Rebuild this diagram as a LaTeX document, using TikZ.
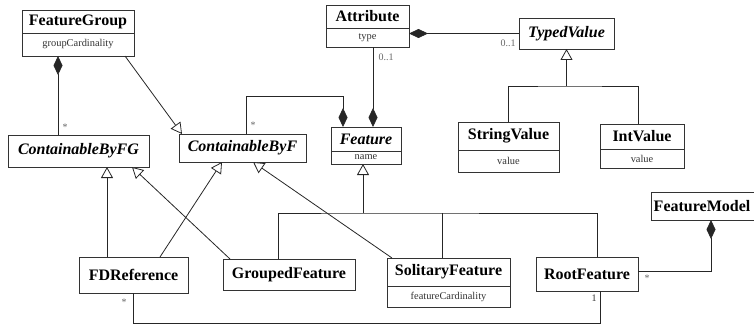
\documentclass[tikz,border=0pt]{standalone}
\usepackage{fontspec}
\setmainfont{Liberation Serif}
\usetikzlibrary{arrows.meta,calc}
\begin{document}
\begin{tikzpicture}[x=1pt,y=-1pt,
 box/.style={draw=black!80, line width=0.9pt, inner sep=0pt, outer sep=0pt, fill=white},
 ttl/.style={font=\fontsize{16}{18}\selectfont\bfseries, inner sep=0pt},
 ittl/.style={font=\fontsize{16}{18}\selectfont\bfseries\itshape, inner sep=0pt},
 att/.style={font=\fontsize{10.4}{12}\selectfont, text=black!80, inner sep=0pt},
 mult/.style={font=\fontsize{10}{12}\selectfont, text=black!60, inner sep=0pt},
 con/.style={draw=black!85, line width=0.8pt},
 compo/.style={con, {Diamond[length=19pt,width=9pt]}-},
 gen/.style={con, -{Triangle[open,length=11pt,width=12pt,fill=white]}},
 divl/.style={draw=black!80, line width=0.8pt},
]
\useasboundingbox (0,0) rectangle (754,326);

% connectors first (boxes drawn on top)
% classes
\node[box, minimum width=112pt, minimum height=46pt] (fg) at (78,33) {};
\node[box, minimum width=83pt, minimum height=42pt] (attr) at (367.5,26) {};
\node[box, minimum width=95pt, minimum height=31pt] (tv) at (566.5,33.5) {};
\node[box, minimum width=101pt, minimum height=50pt] (sv) at (508.5,147) {};
\node[box, minimum width=84pt, minimum height=44pt] (iv) at (642,146) {};
\node[box, minimum width=70pt, minimum height=37pt] (feat) at (366,145.5) {};
\node[box, minimum width=127pt, minimum height=28pt] (cbf) at (242.5,148) {};
\node[box, minimum width=141pt, minimum height=32pt] (cbfg) at (78.5,151) {};
\node[box, minimum width=109pt, minimum height=36pt] (fdr) at (133.5,275) {};
\node[box, minimum width=132pt, minimum height=31pt] (gf) at (289,274.5) {};
\node[box, minimum width=123pt, minimum height=49pt] (sf) at (448.5,282.5) {};
\node[box, minimum width=102pt, minimum height=34pt] (rf) at (587,274) {};
\node[box, minimum width=105pt, minimum height=28pt] (fm) at (703.5,206) {};

% dividers
\draw[divl] (fg.west |- 0,33) -- (fg.east |- 0,33);
\draw[divl] (attr.west |- 0,28) -- (attr.east |- 0,28);
\draw[divl] (sv.west |- 0,150) -- (sv.east |- 0,150);
\draw[divl] (iv.west |- 0,149) -- (iv.east |- 0,149);
\draw[divl] (feat.west |- 0,151) -- (feat.east |- 0,151);
\draw[divl] (sf.west |- 0,286) -- (sf.east |- 0,286);

% texts
\node[ttl] (fgT) at (78,21.5) {FeatureGroup};
\node[att] (fgA) at (78,44.5) {groupCardinality};
\node[ttl] (attrT) at (367.5,16.5) {Attribute};
\node[att] (attrA) at (367.5,37.5) {type};
\node[ittl] (tvT) at (tv) {TypedValue};
\node[ttl] (svT) at (508.5,136) {StringValue};
\node[att] (svA) at (508.5,161) {value};
\node[ttl] (ivT) at (642,136.5) {IntValue};
\node[att] (ivA) at (642,158.5) {value};
\node[ittl] (featT) at (366,139) {Feature};
\node[att] (featA) at (366,157.5) {name};
\node[ittl] (cbfT) at (cbf) {ContainableByF};
\node[ittl] (cbfgT) at (cbfg) {ContainableByFG};
\node[ttl] (fdrT) at (fdr) {FDReference};
\node[ttl] (gfT) at (gf) {GroupedFeature};
\node[ttl] (sfT) at (448.5,272) {SolitaryFeature};
\node[att] (sfA) at (448.5,296.5) {featureCardinality};
\node[ttl] (rfT) at (rf) {RootFeature};
\node[ttl] (fmT) at (702,206) {FeatureModel};

% compositions
\draw[compo] ([xshift=-20pt]fg.south) -- ([xshift=-20pt]fg.south |- cbfg.north);
\draw[compo] ([xshift=-23pt]feat.north) -- ++(0,-31) -| ([xshift=3.5pt]cbf.north);
\draw[compo] ([xshift=7pt]feat.north) -- ([xshift=7pt]feat.north |- attr.south);
\draw[compo] (attr.east |- tv.west) -- (tv.west);
\draw[compo] ([xshift=7.5pt]fm.south) |- ([yshift=3pt]rf.east);

% generalizations
\draw[gen] ([xshift=-9pt]fg.south east) -- ([xshift=3pt]cbf.north west);
\coordinate (tvj) at (566.5,86);
\draw[con] (sv.north) |- (tvj) -| ([xshift=-4pt]iv.north);
\draw[gen] (tvj) -- (tv.south);
\coordinate (fj) at (363,213);
\draw[con] ([xshift=-11pt]gf.north) |- (fj) -| ([xshift=10pt]rf.north);
\draw[con] ([xshift=-6.5pt]sf.north) -- ([xshift=-6.5pt]sf.north |- fj);
\draw[gen] (fj) -- (fj |- feat.south);
\draw[gen] ([xshift=-26.5pt]fdr.north) -- ([xshift=-26.5pt]fdr.north |- cbfg.south);
\draw[gen] ([xshift=7pt]gf.north west) -- ([xshift=53.5pt]cbfg.south);
\draw[gen] ([xshift=26.5pt]fdr.north) -- ([xshift=-20.5pt]cbf.south);
\draw[gen] ([xshift=5pt]sf.north west) -- ([xshift=10.5pt]cbf.south);

% association
\draw[con] (fdr.south) -- ++(0,30) -| ([xshift=13pt]rf.south);

% multiplicities
\node[mult] (m1) at (65,127) {*};
\node[mult] (m2) at (253,125) {*};
\node[mult] (m3) at (386,57) {0..1};
\node[mult] (m4) at (508,43) {0..1};
\node[mult] (m5) at (124,302) {*};
\node[mult, text=black!80] (m6) at (594,298) {1};
\node[mult] (m7) at (647,278) {*};
\end{tikzpicture}
\end{document}
